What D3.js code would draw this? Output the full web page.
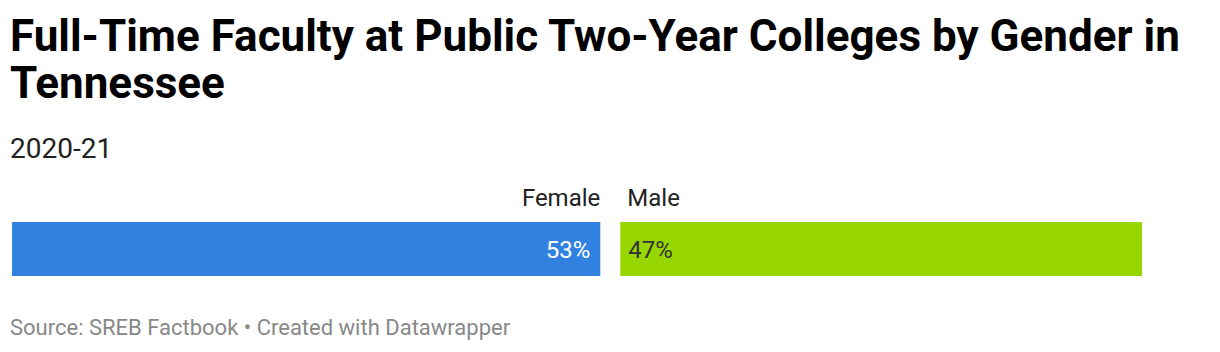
<!DOCTYPE html>
<html>
<head>
<meta charset="utf-8">
<script src="https://cdn.jsdelivr.net/npm/d3@7"></script>
<style>
  html, body { margin: 0; padding: 0; background: #fff; }
  svg { display: block; font-family: Roboto, "Noto Sans", sans-serif; }
</style>
</head>
<body>
<svg id="chart" width="1220" height="352"></svg>
<script>
const titleLines = ["Full-Time Faculty at Public Two-Year Colleges by Gender in", "Tennessee"];
const subtitle = "2020-21";
const categories = ["Female", "Male"];
const values = [53, 47];
const colors = ["#3182e0", "#98d600"];
const valueColors = ["#ffffff", "#333333"];
const sourceText = "Source: SREB Factbook • Created with Datawrapper";

const svg = d3.select("#chart");

svg.selectAll("text.title").data(titleLines).join("text")
  .attr("class", "title")
  .attr("x", 10).attr("y", (d, i) => 51 + i * 47)
  .attr("font-size", 44).attr("font-weight", 700).attr("fill", "#000")
  .text(d => d);

svg.append("text").attr("x", 10).attr("y", 158)
  .attr("font-size", 28).attr("fill", "#222").text(subtitle);

const left = 12, gap = 20;
const x = d3.scaleLinear().domain([0, 100]).range([0, 1110]);
const starts = [];
let acc = left;
values.forEach((v, i) => { starts.push(acc); acc += x(v) + gap; });

const barY = 222, barH = 54;

const g = svg.append("g");
g.selectAll("rect").data(values).join("rect")
  .attr("x", (d, i) => starts[i]).attr("y", barY)
  .attr("width", d => x(d)).attr("height", barH)
  .attr("fill", (d, i) => colors[i]);

g.selectAll("text.cat").data(categories).join("text")
  .attr("class", "cat")
  .attr("x", (d, i) => i === 0 ? starts[i] + x(values[i]) : starts[i] + 7)
  .attr("y", 206)
  .attr("text-anchor", (d, i) => i === 0 ? "end" : "start")
  .attr("font-size", 24).attr("fill", "#222")
  .text(d => d);

g.selectAll("text.val").data(values).join("text")
  .attr("class", "val")
  .attr("x", (d, i) => i === 0 ? starts[i] + x(d) - 10 : starts[i] + 8)
  .attr("y", barY + barH / 2 + 9)
  .attr("text-anchor", (d, i) => i === 0 ? "end" : "start")
  .attr("font-size", 24).attr("fill", (d, i) => valueColors[i])
  .text(d => d + "%");

svg.append("text").attr("x", 10).attr("y", 335)
  .attr("font-size", 22).attr("fill", "#888").text(sourceText);
</script>
</body>
</html>
